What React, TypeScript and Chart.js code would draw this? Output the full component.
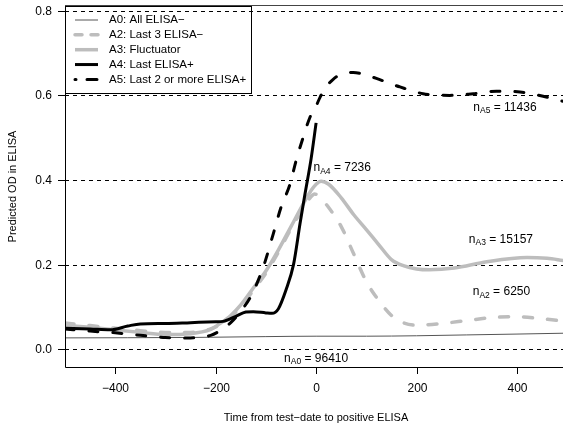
import React, { useEffect, useRef } from "react";
import { Chart, registerables } from "chart.js";
Chart.register(...registerables);

// ---------- data ----------
const xA0 = [-500, -250, -100, 0, 100, 200, 300, 400, 492];
const yA0 = [0.027, 0.028, 0.030, 0.031, 0.031, 0.032, 0.034, 0.036, 0.038];

const xA2 = [-500, -450, -400, -350, -300, -250, -210, -190, -150, -125, -100, -75, -50, -25, -12, -3, 10, 25, 50, 75, 100, 125, 150, 175, 200, 250, 300, 350, 400, 450, 492];
const yA2 = [0.062, 0.056, 0.050, 0.044, 0.040, 0.040, 0.048, 0.060, 0.100, 0.140, 0.180, 0.230, 0.285, 0.335, 0.358, 0.367, 0.356, 0.335, 0.290, 0.225, 0.160, 0.115, 0.080, 0.062, 0.057, 0.061, 0.068, 0.075, 0.077, 0.072, 0.067];

const xA3 = [-500, -450, -400, -350, -300, -250, -210, -190, -170, -150, -125, -100, -75, -50, -25, -10, 0, 10, 25, 50, 75, 100, 125, 150, 175, 200, 225, 275, 340, 420, 460, 492];
const yA3 = [0.057, 0.052, 0.046, 0.040, 0.035, 0.037, 0.047, 0.062, 0.080, 0.105, 0.145, 0.185, 0.235, 0.290, 0.345, 0.375, 0.390, 0.397, 0.390, 0.358, 0.318, 0.283, 0.247, 0.212, 0.197, 0.190, 0.188, 0.192, 0.207, 0.217, 0.215, 0.210];

const xA4 = [-500, -450, -410, -375, -350, -300, -250, -200, -185, -160, -140, -125, -100, -88, -75, -60, -45, -32, -22, -10, 0];
const yA4 = [0.050, 0.048, 0.046, 0.055, 0.060, 0.061, 0.063, 0.065, 0.066, 0.078, 0.088, 0.089, 0.086, 0.085, 0.096, 0.140, 0.200, 0.297, 0.368, 0.450, 0.535];

const xA5 = [-500, -450, -400, -350, -300, -250, -210, -190, -170, -150, -130, -105, -85, -70, -52, -40, -26, -12, 0, 8, 20, 34, 50, 74, 100, 120, 167, 213, 266, 313, 359, 406, 452, 492];
const yA5 = [0.048, 0.043, 0.039, 0.033, 0.028, 0.027, 0.033, 0.045, 0.063, 0.090, 0.125, 0.195, 0.274, 0.335, 0.390, 0.445, 0.500, 0.549, 0.575, 0.596, 0.620, 0.638, 0.650, 0.654, 0.648, 0.640, 0.620, 0.604, 0.600, 0.604, 0.610, 0.608, 0.598, 0.586];

const xTicks = [-400, -200, 0, 200, 400];
const yTicks = [0.0, 0.2, 0.4, 0.6, 0.8];
const yTickLabels = ["0.0", "0.2", "0.4", "0.6", "0.8"];

const legendLabels = ["A0: All ELISA\u2212", "A2: Last 3 ELISA\u2212", "A3: Fluctuator", "A4: Last ELISA+", "A5: Last 2 or more ELISA+"];

const annSub = ["A5", "A4", "A3", "A2", "A0"];
const annNum = ["11436", "7236", "15157", "6250", "96410"];
const annX = [376, 52, 368, 369, 0];
const annY = [0.572, 0.428, 0.258, 0.135, -0.021];

const FONT = '"Liberation Sans", Arial, Helvetica, sans-serif';
const GRAY = "#bdbdbd";

const pts = (xs: number[], ys: number[]) => xs.map((x, i) => ({ x, y: ys[i] }));

const overlay = {
  id: "overlay",
  beforeDatasetsDraw(chart: any) {
    const { ctx, chartArea, scales } = chart;
    const ys = scales.y;
    ctx.save();
    ctx.strokeStyle = "#000";
    ctx.lineWidth = 1;
    ctx.setLineDash([4, 4]);
    for (const v of yTicks) {
      const py = Math.round(ys.getPixelForValue(v)) + 0.5;
      ctx.beginPath();
      ctx.moveTo(chartArea.left, py);
      ctx.lineTo(chartArea.right, py);
      ctx.stroke();
    }
    ctx.restore();
  },
  afterDatasetsDraw(chart: any) {
    const { ctx, chartArea, scales } = chart;
    const xs = scales.x, ys = scales.y;
    const L = chartArea.left, R = chartArea.right, T = chartArea.top, B = chartArea.bottom;
    ctx.save();
    ctx.setLineDash([]);
    ctx.lineWidth = 1;
    ctx.strokeStyle = "#000";
    // box
    ctx.beginPath();
    ctx.moveTo(L + 0.5, T);
    ctx.lineTo(L + 0.5, B + 0.5);
    ctx.lineTo(R, B + 0.5);
    ctx.stroke();
    ctx.strokeStyle = "#444";
    ctx.beginPath();
    ctx.moveTo(L, T - 0.5);
    ctx.lineTo(R, T - 0.5);
    ctx.stroke();
    ctx.strokeStyle = "#000";
    // y ticks
    ctx.fillStyle = "#000";
    ctx.font = `12px ${FONT}`;
    ctx.textAlign = "right";
    ctx.textBaseline = "middle";
    yTicks.forEach((v, i) => {
      const py = Math.round(ys.getPixelForValue(v)) + 0.5;
      ctx.beginPath();
      ctx.moveTo(L - 7, py);
      ctx.lineTo(L, py);
      ctx.stroke();
      ctx.fillText(yTickLabels[i], L - 13, py);
    });
    // x ticks
    ctx.textAlign = "center";
    xTicks.forEach((v) => {
      const px = Math.round(xs.getPixelForValue(v)) + 0.5;
      ctx.beginPath();
      ctx.moveTo(px, B);
      ctx.lineTo(px, B + 7);
      ctx.stroke();
      ctx.fillText(v < 0 ? "\u2212" + Math.abs(v) : String(v), px, B + 22);
    });
    // titles
    ctx.font = `11px ${FONT}`;
    ctx.fillText("Time from test\u2212date to positive ELISA", (L + 567) / 2, B + 51);
    ctx.save();
    ctx.translate(13, (T + B) / 2);
    ctx.rotate(-Math.PI / 2);
    ctx.fillText("Predicted OD in ELISA", 0, 0);
    ctx.restore();

    // annotations
    annSub.forEach((s, i) => {
      const cx = xs.getPixelForValue(annX[i]);
      const cy = ys.getPixelForValue(annY[i]);
      ctx.font = `12px ${FONT}`;
      const wn = ctx.measureText("n").width;
      const rest = " = " + annNum[i];
      const wr = ctx.measureText(rest).width;
      ctx.font = `8.5px ${FONT}`;
      const ws = ctx.measureText(s).width;
      const total = wn + ws + wr;
      const x0 = cx - total / 2;
      ctx.textAlign = "left";
      ctx.textBaseline = "middle";
      ctx.font = `12px ${FONT}`;
      ctx.fillText("n", x0, cy);
      ctx.font = `8.5px ${FONT}`;
      ctx.fillText(s, x0 + wn, cy + 3);
      ctx.font = `12px ${FONT}`;
      ctx.fillText(rest, x0 + wn + ws, cy);
    });

    // legend
    ctx.font = `11.5px ${FONT}`;
    let maxW = 0;
    legendLabels.forEach((lab) => { maxW = Math.max(maxW, ctx.measureText(lab).width); });
    const lx = L, ly = T, lr = Math.round(109 + maxW + 5), lb = 93;
    ctx.strokeStyle = "#000";
    ctx.lineWidth = 1;
    ctx.setLineDash([]);
    ctx.strokeRect(lx + 0.5, ly + 0.5, lr - lx, lb - ly);
    const styles = [
      { c: "#555", w: 1, d: [] as number[] },
      { c: GRAY, w: 3.5, d: [7, 9] },
      { c: GRAY, w: 3.5, d: [] as number[] },
      { c: "#000", w: 3, d: [] as number[] },
      { c: "#000", w: 3, d: [1, 11, 10, 20] },
    ];
    legendLabels.forEach((lab, i) => {
      const y = 20 + i * 14.85;
      const st = styles[i];
      ctx.strokeStyle = st.c;
      ctx.lineWidth = st.w;
      ctx.lineCap = st.d.length ? "round" : "butt";
      ctx.setLineDash(st.d);
      ctx.beginPath();
      ctx.moveTo(75, y);
      ctx.lineTo(98, y);
      ctx.stroke();
      ctx.setLineDash([]);
      ctx.fillStyle = "#000";
      ctx.font = `11.5px ${FONT}`;
      ctx.textAlign = "left";
      ctx.textBaseline = "middle";
      ctx.fillText(lab, 109, y);
    });
    ctx.restore();
  },
};

export default function App() {
  const ref = useRef<HTMLCanvasElement>(null);
  useEffect(() => {
    if (!ref.current) return;
    const base = { pointRadius: 0, fill: false, cubicInterpolationMode: "monotone" as const, borderJoinStyle: "round" as const };
    const chart = new Chart(ref.current, {
      type: "line",
      data: {
        datasets: [
          { ...base, label: "A5", data: pts(xA5, yA5), borderColor: "#000", borderWidth: 3, borderDash: [9, 15], borderCapStyle: "round" },
          { ...base, label: "A4", data: pts(xA4, yA4), borderColor: "#000", borderWidth: 3 },
          { ...base, label: "A0", data: pts(xA0, yA0), borderColor: "#555", borderWidth: 1 },
          { ...base, label: "A2", data: pts(xA2, yA2), borderColor: GRAY, borderWidth: 3.5, borderDash: [9, 15], borderCapStyle: "round" },
          { ...base, label: "A3", data: pts(xA3, yA3), borderColor: GRAY, borderWidth: 3.5 },
        ] as any,
      },
      options: {
        animation: false,
        responsive: false,
        devicePixelRatio: 1,
        layout: { padding: { left: 65, top: 6, right: 0, bottom: 61 } },
        plugins: { legend: { display: false }, tooltip: { enabled: false } },
        scales: {
          x: { type: "linear", min: -500, max: 491.6, display: false },
          y: { type: "linear", min: -0.0418, max: 0.8112, display: false },
        },
      },
      plugins: [overlay],
    });
    return () => chart.destroy();
  }, []);
  return (
    <div style={{ position: "absolute", left: 0, top: 0, width: 563, height: 428, background: "#fff" }}>
      <canvas ref={ref} width={563} height={428} style={{ display: "block" }} />
    </div>
  );
}
